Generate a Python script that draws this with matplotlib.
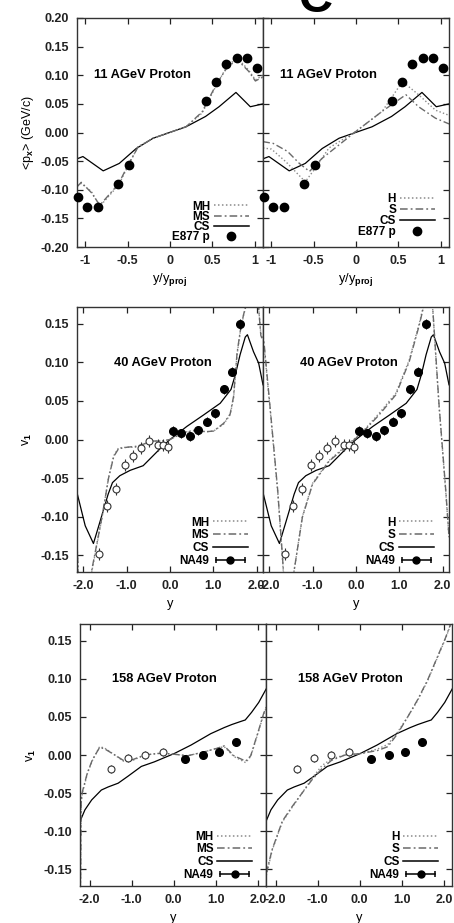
import matplotlib
matplotlib.use("Agg")
import matplotlib.pyplot as plt
from matplotlib.lines import Line2D
from matplotlib.legend_handler import HandlerLine2D

plt.rcParams['font.family'] = ['Liberation Sans', 'DejaVu Sans']
plt.rcParams['font.weight'] = 'bold'
plt.rcParams['mathtext.fontset'] = 'custom'
plt.rcParams['mathtext.rm'] = 'Liberation Sans:bold'
plt.rcParams['mathtext.it'] = 'Liberation Sans:bold'
plt.rcParams['mathtext.bf'] = 'Liberation Sans:bold'

# ---- 11 AGeV (row 1) ----
e877_x = [-1.09, -0.98, -0.855, -0.61, -0.49, 0.42, 0.54, 0.66, 0.79, 0.91, 1.03]
e877_y = [-0.112, -0.131, -0.130, -0.090, -0.056, 0.055, 0.089, 0.119, 0.131, 0.131, 0.112]

cs11_x = [-1.1, -1.03, -0.79, -0.60, -0.40, -0.20, 0.19, 0.42, 0.58, 0.78, 0.95, 1.1]
cs11_y = [-0.046, -0.042, -0.067, -0.054, -0.028, -0.010, 0.010, 0.028, 0.045, 0.070, 0.045, 0.050]

mh11_x = [-1.1, -1.05, -0.93, -0.83, -0.61, -0.49, -0.38, -0.20, 0.19, 0.38, 0.54, 0.66, 0.79, 0.93, 1.01, 1.1]
mh11_y = [-0.092, -0.089, -0.103, -0.129, -0.092, -0.057, -0.025, -0.010, 0.010, 0.034, 0.080, 0.112, 0.131, 0.109, 0.092, 0.100]
ms11_y = [-0.095, -0.087, -0.105, -0.127, -0.090, -0.055, -0.026, -0.010, 0.010, 0.036, 0.082, 0.110, 0.128, 0.107, 0.090, 0.097]

h11_x = [-1.1, -1.0, -0.83, -0.60, -0.47, -0.32, 0.0, 0.31, 0.55, 0.74, 0.94, 1.1]
h11_y = [-0.027, -0.029, -0.051, -0.086, -0.060, -0.027, 0.002, 0.037, 0.089, 0.066, 0.039, 0.030]
s11_x = [-1.1, -0.98, -0.81, -0.67, -0.55, -0.40, 0.0, 0.31, 0.59, 0.74, 0.94, 1.1]
s11_y = [-0.016, -0.019, -0.033, -0.054, -0.068, -0.045, 0.002, 0.037, 0.066, 0.045, 0.025, 0.015]

# ---- 40 AGeV (row 2) ----
na40_open_x = [-1.648, -1.455, -1.247, -1.047, -0.854, -0.662, -0.493, -0.277, -0.161, -0.054]
na40_open_y = [-0.149, -0.086, -0.064, -0.033, -0.021, -0.011, -0.002, -0.007, -0.007, -0.010]
na40_x = [0.062, 0.254, 0.455, 0.655, 0.855, 1.04, 1.24, 1.43, 1.625]
na40_y = [0.011, 0.008, 0.004, 0.012, 0.023, 0.034, 0.065, 0.088, 0.150]

cs40_x = [-2.15, -1.96, -1.77, -1.62, -1.43, -1.33, -1.16, -0.92, -0.62, -0.23, 0.0,
          0.39, 0.78, 1.16, 1.41, 1.51, 1.62, 1.74, 1.79, 1.93, 2.05, 2.15]
cs40_y = [-0.069, -0.112, -0.135, -0.107, -0.071, -0.056, -0.047, -0.040, -0.034, -0.012, 0.0,
          0.017, 0.032, 0.047, 0.065, 0.084, 0.110, 0.133, 0.136, 0.114, 0.099, 0.071]

mh40_x = [-2.15, -2.12, -2.0, -1.80, -1.57, -1.42, -1.30, -1.19, -0.99, -0.80, -0.61, -0.42, -0.185, 0.0,
          0.316, 0.624, 0.82, 1.01, 1.24, 1.39, 1.47, 1.55, 1.625, 1.70, 1.76, 1.9, 2.05, 2.1, 2.15]
mh40_y = [-0.135, -0.175, -0.24, -0.169, -0.101, -0.049, -0.021, -0.011, -0.010, -0.010, -0.006, -0.002, -0.002, 0.0,
          0.009, 0.013, 0.010, 0.011, 0.020, 0.032, 0.054, 0.110, 0.140, 0.161, 0.174, 0.24, 0.17, 0.137, 0.130]
ms40_y = [-0.133, -0.175, -0.24, -0.167, -0.100, -0.050, -0.022, -0.012, -0.010, -0.009, -0.006, -0.002, -0.002, 0.0,
          0.009, 0.012, 0.010, 0.011, 0.021, 0.033, 0.056, 0.112, 0.141, 0.162, 0.175, 0.24, 0.17, 0.135, 0.128]

s40_x = [-2.16, -2.12, -1.97, -1.81, -1.70, -1.6, -1.43, -1.24, -1.005, -0.62, -0.16, 0.15,
         0.535, 0.92, 1.23, 1.46, 1.57, 1.67, 1.77, 1.92, 2.075, 2.15]
s40_y = [0.140, 0.122, 0.032, -0.066, -0.152, -0.24, -0.17, -0.101, -0.058, -0.028, -0.006, 0.009,
         0.032, 0.058, 0.101, 0.148, 0.174, 0.24, 0.174, 0.045, -0.066, -0.126]
h40_y = [0.135, 0.118, 0.030, -0.068, -0.155, -0.24, -0.17, -0.100, -0.057, -0.027, -0.005, 0.010,
         0.034, 0.060, 0.103, 0.150, 0.176, 0.24, 0.172, 0.043, -0.068, -0.128]

# ---- 158 AGeV (row 3) ----
na158_open_x = [-1.50, -1.09, -0.68, -0.26]
na158_open_y = [-0.018, -0.004, 0.0, 0.004]
na158_x = [0.267, 0.685, 1.08, 1.49]
na158_y = [-0.005, 0.0, 0.004, 0.017]

cs158_x = [-2.21, -2.11, -1.95, -1.72, -1.56, -1.32, -1.09, -0.77, -0.46, 0.015, 0.41, 0.88,
           1.20, 1.38, 1.59, 1.70, 1.85, 2.02, 2.2]
cs158_y = [-0.085, -0.072, -0.059, -0.046, -0.042, -0.037, -0.028, -0.015, -0.009, 0.002, 0.013, 0.028,
           0.036, 0.040, 0.044, 0.046, 0.056, 0.069, 0.087]

mh158_x = [-2.22, -2.20, -2.17, -2.05, -1.93, -1.76, -1.64, -1.40, -1.17, -0.97, -0.69, -0.38, -0.18,
           0.015, 0.33, 0.72, 1.04, 1.20, 1.43, 1.71, 1.83, 2.02, 2.14, 2.2]
mh158_y = [-0.20, -0.063, -0.050, -0.024, -0.007, 0.011, 0.009, 0.0, -0.009, -0.007, 0.0, 0.002, 0.002,
           0.001, -0.001, 0.004, 0.009, 0.011, -0.002, -0.010, -0.002, 0.032, 0.054, 0.062]
ms158_y = [-0.20, -0.060, -0.048, -0.023, -0.006, 0.010, 0.008, 0.0, -0.008, -0.006, 0.0, 0.002, 0.002,
           0.001, -0.001, 0.004, 0.009, 0.012, -0.001, -0.008, -0.001, 0.033, 0.055, 0.063]

s158_x = [-2.22, -2.08, -1.84, -1.61, -1.37, -1.14, -0.90, -0.67, -0.35, 0.04, 0.43, 0.67,
          0.90, 1.14, 1.37, 1.61, 1.84, 2.04, 2.16, 2.2]
s158_y = [-0.155, -0.124, -0.087, -0.068, -0.050, -0.033, -0.018, -0.007, 0.0, 0.002, 0.006, 0.011,
          0.028, 0.050, 0.072, 0.098, 0.128, 0.154, 0.172, 0.18]
h158_y = [-0.158, -0.125, -0.088, -0.069, -0.050, -0.031, -0.014, -0.005, 0.0, 0.002, 0.008, 0.014,
          0.030, 0.050, 0.071, 0.097, 0.127, 0.153, 0.171, 0.18]

DOT = (0, (1, 1.6))
DASHDOT = (0, (5, 2, 1.2, 2))
GREY_DOT = '#8a8a8a'
GREY_DD = '#6a6a6a'

fig = plt.figure(figsize=(4.54, 9.23), dpi=100)
W = 186 / 454

def make_axes(left_px, top_px, bot_px):
    b = 1 - bot_px / 923
    h = (bot_px - top_px) / 923
    a1 = fig.add_axes([left_px / 454, b, W, h])
    a2 = fig.add_axes([left_px / 454 + W, b, W, h])
    return a1, a2

def style(ax, xlim, ylim, xticks, xlabels, yticks, show_y):
    ax.set_xlim(*xlim)
    ax.set_ylim(*ylim)
    ax.set_xticks(xticks)
    ax.set_xticklabels(xlabels)
    ax.set_yticks(yticks)
    if show_y:
        ax.set_yticklabels(['%.2f' % v for v in yticks])
    else:
        ax.set_yticklabels([])
    ax.tick_params(direction='in', top=True, right=True, length=4, width=0.9,
                   labelsize=9, pad=6, color='#222222', labelcolor='#222222')
    for sp in ax.spines.values():
        sp.set_linewidth(1.0)
        sp.set_color('#333333')

def add_legend(ax, labels, data_name, anchor, spacing, errbar):
    h_dot = Line2D([], [], color=GREY_DOT, ls=DOT, lw=1.1)
    h_dd = Line2D([], [], color=GREY_DD, ls=DASHDOT, lw=1.1)
    h_cs = Line2D([], [], color='k', lw=1.1)
    hmap = {}
    if errbar:
        bar = Line2D([], [], color='k', lw=1.1, marker='|', markersize=5, mew=1.1)
        dot = Line2D([], [], color='k', ls='none', marker='o', markersize=5)
        h_data = (bar, dot)
        hmap[bar] = HandlerLine2D(numpoints=2)
    else:
        h_data = Line2D([], [], color='k', ls='none', marker='o', markersize=6)
    ax.legend([h_dot, h_dd, h_cs, h_data], labels + [data_name], loc='lower right',
              bbox_to_anchor=anchor, markerfirst=False, frameon=False, borderpad=0,
              borderaxespad=0, handlelength=3.0, handletextpad=0.3, labelspacing=spacing,
              numpoints=1, prop={'size': 8.5, 'weight': 'bold'}, handler_map=hmap)

# ---------------- row 1 ----------------
a, b = make_axes(77, 18, 247)
yt1 = [0.20, 0.15, 0.10, 0.05, 0.00, -0.05, -0.10, -0.15, -0.20]
for ax, show in ((a, True), (b, False)):
    style(ax, (-1.1, 1.1), (-0.2, 0.2), [-1, -0.5, 0, 0.5, 1], ['-1', '-0.5', '0', '0.5', '1'], yt1, show)
    ax.plot(cs11_x, cs11_y, color='k', lw=0.9)
    ax.plot(e877_x, e877_y, 'o', color='k', markersize=6, clip_on=False, zorder=5)
    ax.text(0.09, 0.75, '11 AGeV Proton', transform=ax.transAxes, fontsize=9.3, va='center')
    ax.set_xlabel(r'y/y$_{\mathrm{proj}}$', fontsize=9.3, labelpad=3)
a.plot(mh11_x, mh11_y, color=GREY_DOT, ls=DOT, lw=1.0)
a.plot(mh11_x, ms11_y, color=GREY_DD, ls=DASHDOT, lw=1.0)
b.plot(h11_x, h11_y, color=GREY_DOT, ls=DOT, lw=1.0)
b.plot(s11_x, s11_y, color=GREY_DD, ls=DASHDOT, lw=1.0)
a.set_ylabel(r'<p$_x$> (GeV/c)', fontsize=9, labelpad=3)
add_legend(a, ['MH', 'MS', 'CS'], 'E877 p', (0.925, 0.018), -0.16, False)
add_legend(b, ['H', 'S', 'CS'], 'E877 p', (0.925, 0.04), -0.10, False)

# ---------------- row 2 ----------------
a, b = make_axes(77, 307, 572)
yt2 = [0.15, 0.10, 0.05, 0.00, -0.05, -0.10, -0.15]
xt2 = [-2, -1, 0, 1, 2]
xl2 = ['-2.0', '-1.0', '0.0', '1.0', '2.0']
for ax, show in ((a, True), (b, False)):
    style(ax, (-2.15, 2.15), (-0.172, 0.172), xt2, xl2, yt2, show)
    ax.plot(cs40_x, cs40_y, color='k', lw=0.9)
    ax.errorbar(na40_open_x, na40_open_y, yerr=0.008, fmt='o', mfc='white', mec='#333333',
                ecolor='#333333', elinewidth=0.8, markersize=5, mew=0.8, capsize=0, zorder=5)
    ax.errorbar(na40_x, na40_y, yerr=0.006, fmt='o', color='k', elinewidth=0.8,
                markersize=5.5, capsize=0, zorder=5)
    ax.text(0.2, 0.79, '40 AGeV Proton', transform=ax.transAxes, fontsize=9.3, va='center')
    ax.set_xlabel('y', fontsize=9.3, labelpad=4)
a.plot(mh40_x, mh40_y, color=GREY_DOT, ls=DOT, lw=1.0)
a.plot(mh40_x, ms40_y, color=GREY_DD, ls=DASHDOT, lw=1.0)
b.plot(s40_x, h40_y, color=GREY_DOT, ls=DOT, lw=1.0)
b.plot(s40_x, s40_y, color=GREY_DD, ls=DASHDOT, lw=1.0)
a.set_ylabel(r'v$_1$', fontsize=9, labelpad=4)
add_legend(a, ['MH', 'MS', 'CS'], 'NA49', (0.92, 0.02), 0.06, True)
add_legend(b, ['H', 'S', 'CS'], 'NA49', (0.92, 0.02), 0.06, True)

# ---------------- row 3 ----------------
a, b = make_axes(80.3, 624, 886)
for ax, show in ((a, True), (b, False)):
    style(ax, (-2.22, 2.2), (-0.172, 0.172), xt2, xl2, yt2, show)
    ax.plot(cs158_x, cs158_y, color='k', lw=0.9)
    ax.errorbar(na158_open_x, na158_open_y, yerr=0.005, fmt='o', mfc='white', mec='#333333',
                ecolor='#333333', elinewidth=0.8, markersize=5, mew=0.8, capsize=0, zorder=5)
    ax.errorbar(na158_x, na158_y, yerr=0.004, fmt='o', color='k', elinewidth=0.8,
                markersize=5.5, capsize=0, zorder=5)
    ax.text(0.17, 0.79, '158 AGeV Proton', transform=ax.transAxes, fontsize=9.3, va='center')
    ax.set_xlabel('y', fontsize=9.3, labelpad=4)
a.plot(mh158_x, mh158_y, color=GREY_DOT, ls=DOT, lw=1.0)
a.plot(mh158_x, ms158_y, color=GREY_DD, ls=DASHDOT, lw=1.0)
b.plot(s158_x, h158_y, color=GREY_DOT, ls=DOT, lw=1.0)
b.plot(s158_x, s158_y, color=GREY_DD, ls=DASHDOT, lw=1.0)
a.set_ylabel(r'v$_1$', fontsize=9, labelpad=4)
add_legend(a, ['MH', 'MS', 'CS'], 'NA49', (0.925, 0.02), 0.06, True)
add_legend(b, ['H', 'S', 'CS'], 'NA49', (0.925, 0.02), 0.06, True)

# cut-off letter at the top edge
fig.text(0.694, 1.0, 'C', fontsize=34, ha='center', va='center')

fig.savefig('out.png', dpi=100)
